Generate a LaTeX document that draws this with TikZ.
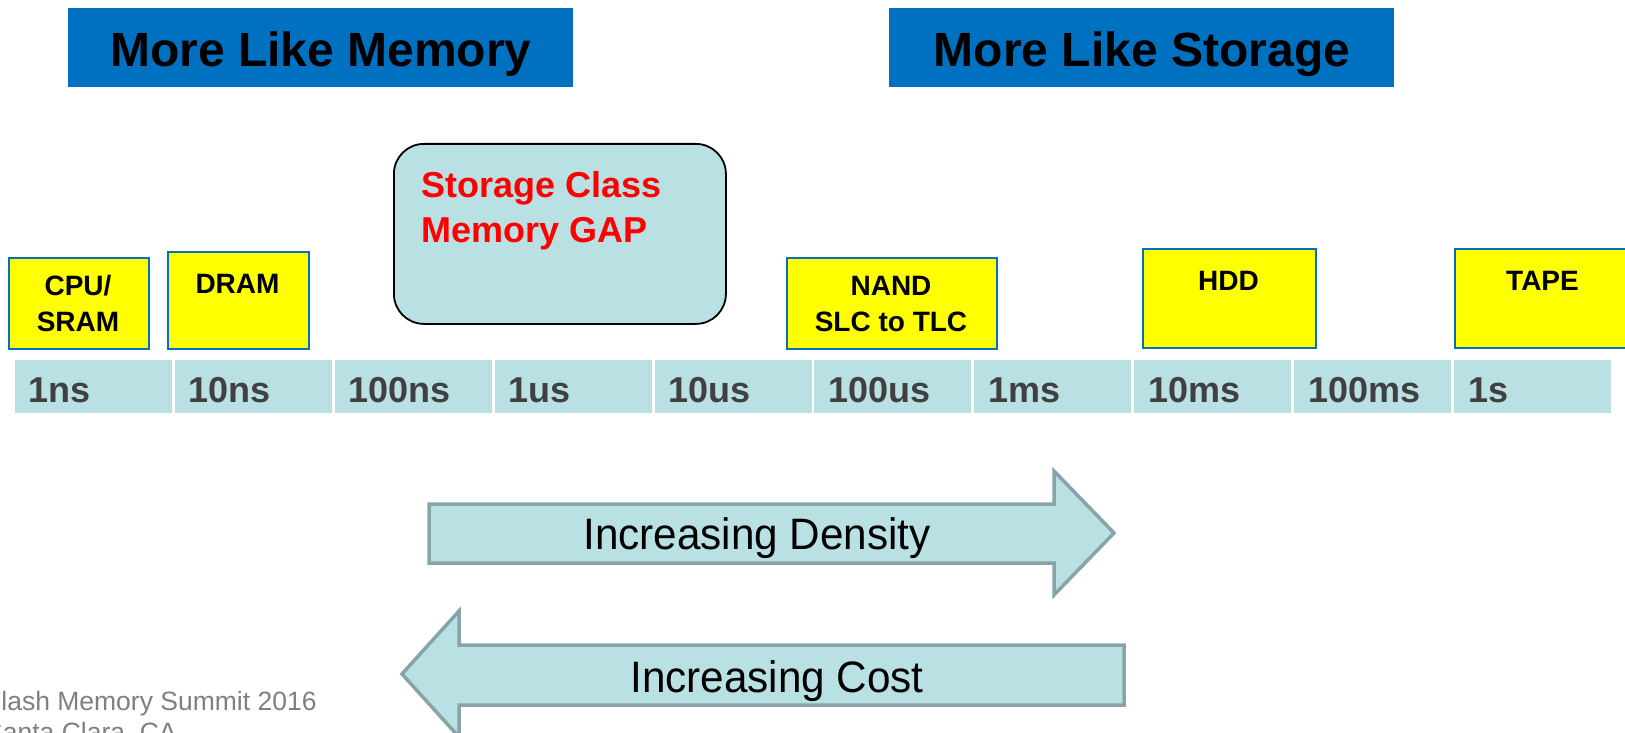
\documentclass[tikz,border=0pt]{standalone}
\usepackage{fontspec}
\setmainfont{Liberation Sans}
\definecolor{hdrblue}{HTML}{0070C0}
\definecolor{lblue}{HTML}{B9E0E3}
\definecolor{arrborder}{HTML}{87A5A8}
\definecolor{ybox}{HTML}{FFFF00}
\definecolor{darkgray}{HTML}{404040}
\definecolor{footgray}{HTML}{808080}
\begin{document}
\begin{tikzpicture}[x=1pt,y=-1pt,
  header/.style={fill=hdrblue, draw=none, minimum width=505pt, minimum height=79pt, anchor=north west, inner sep=0pt},
  htext/.style={font=\fontsize{48}{56}\selectfont\bfseries, text=black, inner sep=0pt, anchor=base},
  cell/.style={fill=lblue, draw=none, minimum width=157pt, minimum height=53pt, anchor=north west, inner sep=0pt},
  celltext/.style={font=\fontsize{36}{42}\selectfont\bfseries, text=darkgray, inner sep=0pt, anchor=base west},
  yellowbox/.style={fill=ybox, draw=hdrblue, line width=1.8pt, anchor=north west, inner sep=0pt},
  ytext/.style={font=\fontsize{28}{34}\selectfont\bfseries, text=black, inner sep=0pt, anchor=base},
  gaptext/.style={font=\fontsize{36}{42}\selectfont\bfseries, text=red, inner sep=0pt, anchor=base west},
  arrowshape/.style={fill=lblue, draw=arrborder, line width=3.5pt, line join=miter},
  arrtext/.style={font=\fontsize{44}{50}\selectfont, text=black, inner sep=0pt, anchor=base},
  foot/.style={font=\fontsize{26.5}{31}\selectfont, text=footgray, inner sep=0pt, anchor=base west}
]
\useasboundingbox (0,0) rectangle (1625,733);
\fill[white] (0,0) rectangle (1625,733);

% headers
\node[header] (hmem) at (68,8) {};
\node[htext] (hmemt) at (321,67) {More Like Memory};
\node[header] (hsto) at (889,8) {};
\node[htext] (hstot) at (1142,67) {More Like Storage};

% storage class memory gap
\node[fill=lblue, draw=black, line width=1.8pt, rounded corners=30pt, minimum width=332pt, minimum height=180pt, anchor=north west, inner sep=0pt] (gap) at (393,143) {};
\node[gaptext] (gap1) at (421,197) {Storage Class};
\node[gaptext] (gap2) at (421,242) {Memory GAP};

% yellow boxes
\node[yellowbox, minimum width=140pt, minimum height=91pt] (cpu) at (8,257) {};
\node[ytext] (cpu1) at (78,295) {CPU/};
\node[ytext] (cpu2) at (78,331) {SRAM};
\node[yellowbox, minimum width=141pt, minimum height=97pt] (dram) at (167,251) {};
\node[ytext] (dramt) at (237.5,293) {DRAM};
\node[yellowbox, minimum width=210pt, minimum height=91pt] (nand) at (786,257) {};
\node[ytext] (nand1) at (891,295) {NAND};
\node[ytext] (nand2) at (891,331) {SLC to TLC};
\node[yellowbox, minimum width=173pt, minimum height=99pt] (hdd) at (1142,248) {};
\node[ytext] (hddt) at (1228.5,290) {HDD};
\node[yellowbox, minimum width=180pt, minimum height=99pt] (tape) at (1454,248) {};
\node[ytext] (tapet) at (1542.5,290) {TAPE};

% timeline
\foreach \t [count=\i from 0] in {1ns,10ns,100ns,1us,10us,100us,1ms,10ms,100ms,1s} {
  \node[cell] (c\i) at ({14.5+159.95*\i},360) {};
  \node[celltext] (l\i) at ({14.5+159.95*\i+14},402) {\t};
}

% arrows
\draw[arrowshape] (429,504) -- (1054,504) -- (1054,471) -- (1114,533) -- (1054,595) -- (1054,563) -- (429,563) -- cycle;
\node[arrtext] (dens) at (757,549) {\scalebox{0.96}[1]{Increasing Density}};
\draw[arrowshape] (1124,645) -- (459,645) -- (459,611) -- (402,674) -- (459,737) -- (459,705) -- (1124,705) -- cycle;
\node[arrtext] (cost) at (777,692) {\scalebox{0.96}[1]{Increasing Cost}};

% footer
\node[foot] (f1) at (-15,710) {Flash Memory Summit 2016};
\node[foot] (f2) at (-15,741) {Santa Clara, CA};
\end{tikzpicture}
\end{document}
